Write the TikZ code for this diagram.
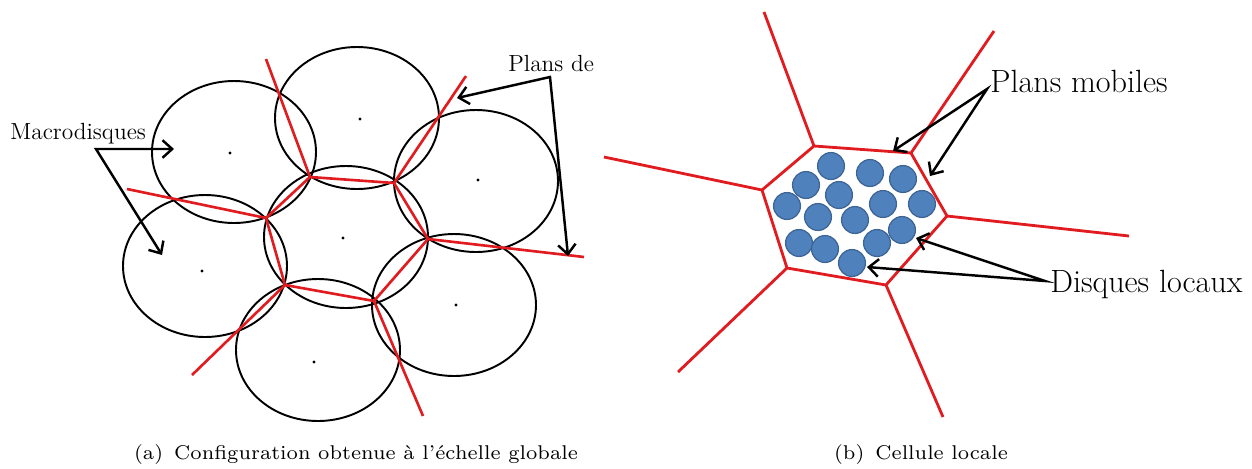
\documentclass[tikz,border=0pt]{standalone}
\usetikzlibrary{arrows.meta}
\definecolor{rougeplan}{RGB}{225,28,32}
\definecolor{bleudisque}{RGB}{79,129,189}
\definecolor{borddisque}{RGB}{60,100,148}
\begin{document}
\begin{tikzpicture}[
        x=0.02cm, y=-0.02cm,
        macro/.style={draw=black, line width=1.1pt},
        plan/.style={draw=rougeplan, line width=1.5pt, line join=round},
        fleche/.style={{Straight Barb[length=5.5pt,width=10pt]}-{Straight Barb[length=5.5pt,width=10pt]}, line width=1.4pt, line join=miter},
        disque/.style={circle, fill=bleudisque, draw=borddisque, line width=0.7pt, minimum size=15.3pt, inner sep=0pt},
        etiquette/.style={inner sep=0pt, font=\fontsize{13.3}{16}\selectfont},
        grande/.style={inner sep=0pt, font=\fontsize{18.3}{22}\selectfont},
        legende/.style={inner sep=0pt}
    ]
        \useasboundingbox (0,0) rectangle (1252,468);

        % Macrodisques
        \foreach \n/\cx/\cy/\px/\py in {hg/234/152/230/153, h/357/118/360/119, dh/476/181/478/180,
                c/346/237/343/238, g/205/266/202/271, b/318/350/314/362, db/454/305/456/305} {
            \coordinate (M\n) at (\cx,\cy);
            \draw[macro] (M\n) ellipse [x radius=82, y radius=71];
            \fill (\px,\py) circle [radius=1.7];
        }

        % Plans (gauche)
        \coordinate (A1) at (310,177);
        \coordinate (A2) at (394,183);
        \coordinate (A3) at (428,239);
        \coordinate (A4) at (374,301);
        \coordinate (A5) at (285,285);
        \coordinate (A6) at (266,218);
        \coordinate (R1) at (266,59);
        \coordinate (R2) at (466,76);
        \coordinate (R3) at (584,257);
        \coordinate (R4) at (423,416);
        \coordinate (R5) at (192,375);
        \coordinate (R6) at (127,189);
        \draw[plan] (A1) -- (A2) -- (A3) -- (A4) -- (A5) -- (A6) -- cycle;
        \foreach \i in {1,...,6} {
            \draw[plan] (A\i) -- (R\i);
        }

        % Cellule locale
        \coordinate (P1) at (814,146);
        \coordinate (P2) at (911,153);
        \coordinate (P3) at (947,216);
        \coordinate (P4) at (886,285);
        \coordinate (P5) at (787,268);
        \coordinate (P6) at (762,190);
        \coordinate (Q1) at (764,12);
        \coordinate (Q2) at (994,31);
        \coordinate (Q3) at (1129,236);
        \coordinate (Q4) at (943,417);
        \coordinate (Q5) at (678,372);
        \coordinate (Q6) at (604,157);
        \draw[plan, line width=1.6pt] (P1) -- (P2) -- (P3) -- (P4) -- (P5) -- (P6) -- cycle;
        \foreach \i in {1,...,6} {
            \draw[plan, line width=1.6pt] (P\i) -- (Q\i);
        }

        % Disques locaux
        \foreach \dx/\dy [count=\k] in {831/166, 870/173, 903/179, 806/185, 839/195, 787/206, 883/204, 922/204,
                818/217, 855/220, 902/230, 799/243, 825/249, 877/243, 852/263} {
            \node[disque] (D\k) at (\dx,\dy) {};
        }

        % Labels
        \node[etiquette, anchor=base west] (macro) at (10,139) {Macrodisques};
        \node[etiquette, anchor=base west] (plans) at (508,71) {Plans de};
        \node[grande, anchor=base west] (mobiles) at (990,92) {Plans mobiles};
        \node[grande, anchor=base west] (locaux) at (1050,292) {Disques locaux};

        % Arrows
        \coordinate (mb) at (96,149);
        \coordinate (mt1) at (174,149);
        \coordinate (mt2) at (162,255);
        \draw[fleche] (mt1) -- (mb) -- (mt2);
        \coordinate (pb) at (550,77);
        \coordinate (pt1) at (457,98);
        \coordinate (pt2) at (568,256);
        \draw[fleche] (pt1) -- (pb) -- (pt2);
        \coordinate (ob) at (987,89);
        \coordinate (ot1) at (893,151);
        \coordinate (ot2) at (930,176);
        \draw[fleche] (ot1) -- (ob) -- (ot2);
        \coordinate (lb) at (1045,281);
        \coordinate (lt1) at (916,238);
        \coordinate (lt2) at (867,267);
        \draw[fleche] (lt1) -- (lb) -- (lt2);

        % Captions
        \node[legende, anchor=base] (capa) at (356,459) {\scalebox{1.62}{\scriptsize (a)\, Configuration obtenue à l'échelle globale}};
        \node[legende, anchor=base] (capb) at (921,459) {\scalebox{1.62}{\scriptsize (b)\, Cellule locale}};
    \end{tikzpicture}
\end{document}
